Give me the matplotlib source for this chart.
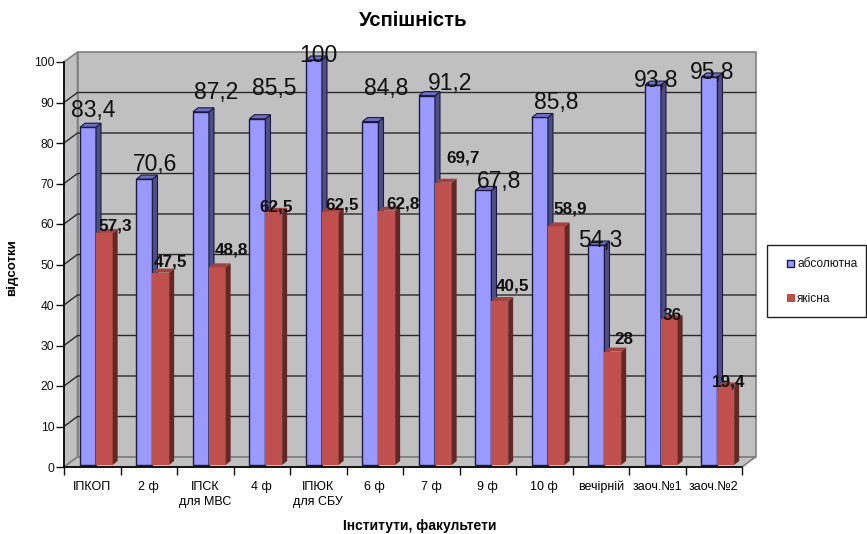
import matplotlib
matplotlib.use("Agg")
import matplotlib.pyplot as plt
from matplotlib.patches import Rectangle

plt.rcParams.update({
    "font.family": ["Liberation Sans", "DejaVu Sans"],
    "font.size": 8,
})

categories = ["ІПКОП", "2 ф", "ІПСК\nдля МВС", "4 ф", "ІПЮК\nдля СБУ", "6 ф",
              "7 ф", "9 ф", "10 ф", "вечірній", "заоч.№1", "заоч.№2"]
absolute = [83.4, 70.6, 87.2, 85.5, 100, 84.8, 91.2, 67.8, 85.8, 54.3, 93.8, 95.8]
quality = [57.3, 47.5, 48.8, 62.5, 62.5, 62.8, 69.7, 40.5, 58.9, 28, 36, 19.4]
abs_text = ["83,4", "70,6", "87,2", "85,5", "100", "84,8", "91,2", "67,8", "85,8", "54,3", "93,8", "95,8"]
qual_text = ["57,3", "47,5", "48,8", "62,5", "62,5", "62,8", "69,7", "40,5", "58,9", "28", "36", "19,4"]

# hand-placed data labels in the original, pixel centres
abs_label_xy = [(93, 111), (155, 164), (216, 93), (274, 88), (318, 55), (386, 88),
                (450, 84), (499, 182), (556, 103), (600, 241), (656, 80), (712, 72)]
qual_label_xy = [(115, 226), (170, 262), (231, 250), (276, 207), (342, 205), (403, 204),
                 (463, 158), (512, 286), (570, 209), (624, 339), (672, 315), (729, 382)]

W, H = 867, 534
LEFT, RIGHT, BOTTOM, TOP = 64, 742, 467, 62

WALL = "#c0c0c0"
EDGE = "#808080"
BLUE, BLUE_SIDE, BLUE_TOP = "#9999ff", "#4f4f85", "#6f6fc0"
RED, RED_SIDE, RED_TOP = "#c0504d", "#632826", "#a04340"

fig = plt.figure(figsize=(W / 100, H / 100), dpi=100, facecolor="white")
ax = fig.add_axes([LEFT / W, 1 - BOTTOM / H, (RIGHT - LEFT) / W, (BOTTOM - TOP) / H])
ax.set_xlim(0, len(categories))
ax.set_ylim(0, 100)
ax.patch.set_visible(False)

ux = (RIGHT - LEFT) / len(categories)  # px per category
uy = (BOTTOM - TOP) / 100  # px per percent
dx, dy = 13.5 / ux, 10 / uy  # wall depth
bx, by = 5 / ux, 4 / uy  # bar depth
BASE = 0.5  # bars stand a little behind the front edge


def poly(xs, ys, **kw):
    ax.fill(xs, ys, clip_on=False, **kw)


# walls and floor
n = len(categories)
poly([0, dx, dx, 0], [0, dy, 100 + dy, 100], fc=WALL, ec=EDGE, lw=1.2, zorder=1)
poly([dx, n + dx, n + dx, dx], [dy, dy, 100 + dy, 100 + dy], fc=WALL, ec=EDGE, lw=1.2, zorder=1)
poly([0, n, n + dx, dx], [0, 0, dy, dy], fc=WALL, ec=EDGE, lw=1.2, zorder=1)

for v in range(10, 100, 10):
    ax.plot([0, dx, n + dx], [v, v + dy, v + dy], color="#2a2a2a", lw=1.0, clip_on=False, zorder=2)


def bar3d(x0, w, v, front, side, top, edge, lw):
    ax.bar(x0, v, w, bottom=BASE, align="edge", color=front, ec=edge, lw=lw, clip_on=False, zorder=3)
    t = v + BASE
    poly([x0 + w, x0 + w + bx, x0 + w + bx, x0 + w], [BASE, BASE + by, t + by, t],
         fc=side, ec=edge, lw=lw * 0.8, zorder=3)
    poly([x0, x0 + bx, x0 + w + bx, x0 + w], [t, t + by, t + by, t],
         fc=top, ec=edge, lw=lw * 0.8, zorder=3)


for i in range(n):
    bar3d(i + 0.283, 0.283, absolute[i], BLUE, BLUE_SIDE, BLUE_TOP, "#1a1a40", 1.0)
    bar3d(i + 0.566, 0.295, quality[i], RED, RED_SIDE, RED_TOP, "none", 0)

# axes
for s in ("top", "right"):
    ax.spines[s].set_visible(False)
for s in ("left", "bottom"):
    ax.spines[s].set_linewidth(1.2)
    ax.spines[s].set_zorder(5)
ax.set_yticks(range(0, 101, 10))
ax.set_xticks(range(n + 1))
ax.set_xticklabels([])
ax.tick_params(length=6, width=1.0, labelsize=8.8, pad=1, colors="#111111")
ax.set_xticks([i + 0.5 for i in range(n)], minor=True)
ax.set_xticklabels(categories, minor=True, fontsize=9, linespacing=1.3, va="top")
ax.tick_params(axis="x", which="minor", length=0, pad=10)

ax.set_ylabel("відсотки", fontsize=9.6, fontweight="bold", labelpad=0)
ax.yaxis.set_label_coords((18 - LEFT) / (RIGHT - LEFT), (BOTTOM - 268) / (BOTTOM - TOP))


def px_text(x, y, s, **kw):
    fig.text(x / W, 1 - y / H, s, ha="center", va="center", **kw)


for txt, (x, y) in zip(abs_text, abs_label_xy):
    px_text(x, y, txt, fontsize=16.5, color="#111111", zorder=10)
for txt, (x, y) in zip(qual_text, qual_label_xy):
    px_text(x, y, txt, fontsize=12.3, fontweight="bold", color="#111111", zorder=10)

px_text(413, 20, "Успішність", fontsize=14.6, fontweight="bold")
px_text(420, 526, "Інститути, факультети", fontsize=10, fontweight="bold")

# legend box runs to the edge of the picture
fig.add_artist(Rectangle((767 / W, 1 - 317 / H), 99 / W, 72 / H, fc="white", ec="#222222", lw=1.0,
                         transform=fig.transFigure))
fig.add_artist(Rectangle((787 / W, 1 - 267 / H), 7 / W, 7 / H, fc=BLUE, ec="#1a1a40", lw=1.0,
                         transform=fig.transFigure))
fig.add_artist(Rectangle((787 / W, 1 - 302 / H), 8 / W, 8 / H, fc=RED, ec="none",
                         transform=fig.transFigure))
fig.text(797 / W, 1 - 264 / H, "абсолютна", fontsize=8.6, va="center", color="#111111")
fig.text(797 / W, 1 - 299 / H, "якісна", fontsize=8.6, va="center", color="#111111")

fig.savefig("out.png", dpi=100, facecolor="white")
plt.close(fig)
